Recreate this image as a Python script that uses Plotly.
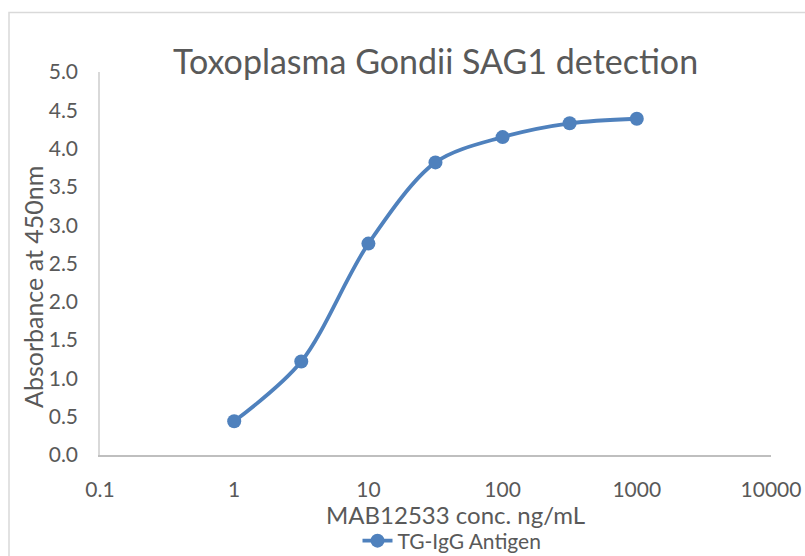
import plotly.graph_objects as go

conc = [1, 3.16, 10, 31.6, 100, 316, 1000]
absorbance = [0.44, 1.22, 2.76, 3.82, 4.15, 4.33, 4.39]
x_tickvals = [0.1, 1, 10, 100, 1000, 10000]
x_ticktext = ["0.1", "1", "10", "100", "1000", "10000"]
y_tickvals = [0, 0.5, 1, 1.5, 2, 2.5, 3, 3.5, 4, 4.5, 5]
y_ticktext = ["0.0", "0.5", "1.0", "1.5", "2.0", "2.5", "3.0", "3.5", "4.0", "4.5", "5.0"]

FONT = "Lato"
GRAY = "#595959"
BLUE = "#4F81BD"

fig = go.Figure()
fig.add_trace(go.Scatter(
    x=conc, y=absorbance, mode="lines+markers", name="TG-IgG Antigen",
    line=dict(color=BLUE, width=3.8, shape="spline", smoothing=0.9),
    marker=dict(color=BLUE, size=14),
))

L, R, T, B = 100, 34, 72, 101
W, H = 805, 556
pw, ph = W - L - R, H - T - B

def px(xp):
    return (xp - L) / pw

def py(yp):
    return (H - B - yp) / ph

fig.update_layout(
    width=W, height=H,
    margin=dict(l=L, r=R, t=T, b=B, autoexpand=False),
    paper_bgcolor="white", plot_bgcolor="white",
    font=dict(family=FONT, color=GRAY, size=21),
    showlegend=True,
    legend=dict(x=px(452), y=py(541), xanchor="center", yanchor="middle",
                font=dict(size=21, color=GRAY), bgcolor="rgba(0,0,0,0)"),
    xaxis=dict(type="log", range=[-1, 4], tickvals=x_tickvals, ticktext=x_ticktext,
               showgrid=False, zeroline=False, showline=True, linecolor="#BFBFBF",
               linewidth=1.5, ticks="", ticklabelstandoff=15, automargin=False,
               tickfont=dict(size=21, color=GRAY)),
    yaxis=dict(range=[0, 5], tickvals=y_tickvals, ticktext=y_ticktext,
               showgrid=False, zeroline=False, showline=True, linecolor="#D9D9D9",
               linewidth=1.5, ticks="", ticklabelstandoff=16, automargin=False,
               tickfont=dict(size=21, color=GRAY)),
    annotations=[
        dict(text="Toxoplasma Gondii SAG1 detection", x=px(435), y=py(60),
             xref="paper", yref="paper", showarrow=False, xanchor="center", yanchor="middle",
             font=dict(size=34, color=GRAY, family=FONT)),
        dict(text="Absorbance at 450nm", x=px(33), y=py(287), textangle=-90,
             xref="paper", yref="paper", showarrow=False, xanchor="center", yanchor="middle",
             font=dict(size=25, color=GRAY, family=FONT)),
        dict(text="MAB12533 conc. ng/mL", x=px(455), y=py(514),
             xref="paper", yref="paper", showarrow=False, xanchor="center", yanchor="middle",
             font=dict(size=24, color=GRAY, family=FONT)),
    ],
    shapes=[dict(type="rect", xref="paper", yref="paper",
                 x0=px(9), x1=px(812), y0=py(565), y1=py(12.5),
                 line=dict(color="#D9D9D9", width=1.5), fillcolor="rgba(0,0,0,0)", layer="below")],
)

fig.write_html("out.html", config={"displayModeBar": False},
               post_script="document.body.style.margin='0';document.body.style.padding='0';")
